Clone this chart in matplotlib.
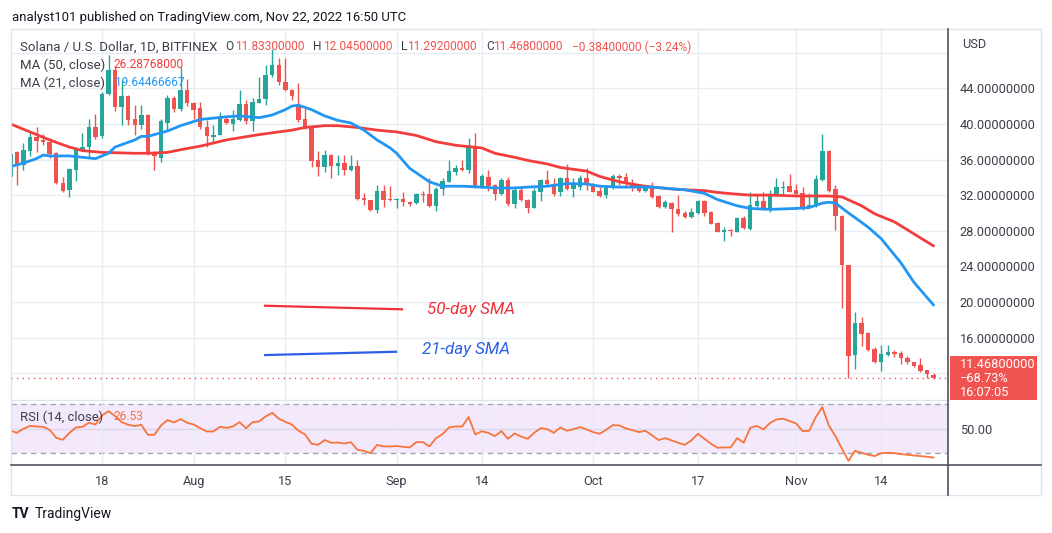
import numpy as np
import pandas as pd
import matplotlib
matplotlib.use("Agg")
import matplotlib.pyplot as plt
from matplotlib import font_manager as fm
from matplotlib.patches import Rectangle

# ---------------- data ----------------
start_date = "2022-07-04"
opens = [34.0, 36.8, 35.4, 37.0, 38.5, 38.2, 38.0, 36.7, 33.4, 32.6,
         34.8, 37.0, 37.4, 39.6, 38.6, 43.4, 46.0, 41.9, 43.1, 40.5,
         39.9, 41.0, 36.8, 36.2, 40.1, 42.9, 41.7, 43.8, 42.4, 41.8,
         39.6, 38.5, 38.8, 40.6, 40.0, 40.4, 42.2, 40.3, 42.4, 42.8,
         45.5, 46.6, 44.7, 43.8, 42.1, 40.5, 39.6, 35.9, 35.2, 36.5,
         35.3, 35.6, 34.8, 35.3, 31.7, 31.4, 30.3, 32.5, 31.6, 31.5,
         31.6, 31.2, 31.1, 32.1, 32.1, 30.8, 32.7, 33.5, 34.6, 35.0,
         34.8, 37.5, 32.9, 34.0, 33.1, 32.1, 33.7, 31.0, 32.6, 31.5,
         30.6, 32.3, 33.7, 33.3, 32.3, 33.9, 32.7, 32.9, 33.9, 33.3,
         32.5, 32.0, 32.8, 34.1, 34.0, 33.3, 33.0, 32.5, 33.0, 31.9,
         30.7, 31.1, 30.4, 30.0, 29.5, 30.0, 31.3, 30.1, 28.9, 27.9,
         28.1, 27.9, 29.4, 28.2, 30.8, 31.3, 30.4, 32.0, 32.8, 33.0,
         32.6, 32.2, 30.7, 30.8, 33.7, 37.0, 32.7, 29.7, 24.2, 14.0,
         17.6, 16.5, 14.7, 13.3, 14.0, 14.4, 14.3, 13.7, 13.2, 12.9,
         12.3, 11.833]
highs = [36.8, 37.0, 37.8, 39.1, 39.6, 38.9, 38.4, 36.8, 34.0, 35.0,
         37.4, 39.0, 40.5, 41.1, 43.6, 47.7, 46.5, 44.9, 43.2, 42.1,
         42.1, 41.1, 36.9, 40.6, 43.2, 43.1, 46.4, 45.1, 42.5, 42.5,
         40.4, 39.9, 41.3, 40.9, 41.6, 43.8, 42.7, 42.9, 45.3, 46.6,
         48.4, 47.4, 47.4, 43.9, 44.6, 41.8, 39.7, 36.9, 37.1, 36.6,
         36.5, 36.5, 36.5, 35.9, 32.2, 31.5, 33.1, 33.1, 33.0, 31.7,
         32.4, 31.3, 32.2, 32.5, 33.9, 32.9, 33.9, 36.0, 35.4, 36.0,
         38.4, 39.0, 34.4, 34.8, 33.2, 33.9, 34.0, 33.0, 32.9, 31.6,
         32.8, 33.8, 34.8, 33.9, 34.0, 35.5, 33.9, 34.3, 35.1, 33.4,
         32.9, 33.1, 34.4, 34.4, 34.5, 33.8, 33.1, 33.1, 33.5, 32.0,
         31.5, 31.2, 32.0, 30.2, 30.5, 31.5, 31.5, 30.2, 29.0, 28.4,
         28.2, 29.5, 29.6, 32.3, 32.1, 32.3, 32.6, 33.9, 33.6, 34.4,
         33.3, 32.9, 32.2, 34.3, 38.9, 37.1, 33.1, 29.8, 24.2, 18.9,
         18.3, 16.6, 14.9, 15.2, 15.2, 14.6, 14.5, 13.9, 13.3, 13.7,
         12.4, 12.045]
lows = [33.3, 33.1, 34.8, 36.4, 36.8, 37.6, 36.2, 33.2, 32.4, 31.8,
        33.6, 36.9, 36.3, 38.3, 38.4, 43.3, 41.5, 39.9, 39.9, 38.8,
        39.4, 36.5, 34.8, 35.7, 39.3, 41.3, 41.5, 42.0, 40.5, 39.4,
        37.4, 38.0, 38.7, 40.0, 39.2, 40.3, 40.0, 39.2, 42.3, 42.1,
        45.3, 44.4, 43.7, 42.7, 40.2, 39.4, 35.2, 34.1, 34.6, 33.9,
        34.3, 34.3, 34.7, 31.4, 30.9, 30.2, 30.0, 30.7, 31.3, 30.5,
        30.8, 30.8, 31.0, 31.2, 30.7, 30.2, 32.0, 33.5, 34.3, 34.7,
        34.5, 32.8, 32.8, 32.5, 31.5, 32.0, 30.8, 30.5, 31.3, 30.0,
        30.5, 31.3, 33.0, 31.9, 31.9, 32.6, 31.8, 32.6, 32.6, 32.3,
        31.8, 31.7, 32.7, 33.1, 33.0, 32.5, 32.4, 32.4, 31.7, 30.5,
        30.6, 27.9, 29.6, 29.4, 29.4, 29.9, 29.7, 28.7, 27.8, 26.9,
        27.4, 27.8, 28.2, 28.1, 30.7, 30.3, 30.1, 31.9, 32.0, 32.3,
        32.0, 30.3, 30.6, 30.7, 33.6, 32.4, 28.1, 19.3, 11.5, 12.5,
        15.1, 14.5, 13.1, 12.2, 13.9, 13.8, 13.0, 13.0, 12.7, 12.1,
        11.4, 11.292]
closes = [36.6, 35.4, 37.1, 38.5, 38.1, 38.0, 36.6, 33.4, 32.5, 34.9,
          37.2, 37.4, 39.6, 38.5, 43.4, 46.0, 41.9, 43.1, 40.4, 39.9,
          41.0, 36.6, 36.4, 40.3, 42.9, 41.7, 43.8, 42.3, 41.6, 39.6,
          38.6, 38.8, 40.7, 40.1, 40.6, 42.2, 40.3, 42.5, 42.8, 45.5,
          46.6, 44.7, 43.8, 43.1, 40.4, 39.5, 35.8, 35.2, 36.5, 35.3,
          35.6, 34.8, 35.3, 31.6, 31.4, 30.3, 32.5, 31.5, 31.4, 31.6,
          31.2, 31.0, 32.1, 32.0, 30.8, 32.7, 33.6, 34.7, 35.0, 34.8,
          37.5, 32.9, 34.2, 33.0, 32.1, 33.7, 31.0, 32.6, 31.4, 30.6,
          32.5, 33.7, 33.3, 32.1, 33.9, 32.7, 33.4, 33.9, 33.1, 32.4,
          31.9, 32.8, 34.1, 33.9, 33.2, 32.9, 32.5, 32.9, 31.8, 30.7,
          31.2, 30.4, 29.9, 29.5, 30.1, 31.3, 30.0, 28.8, 27.9, 28.1,
          28.0, 29.4, 28.3, 30.9, 31.3, 30.4, 32.0, 32.9, 32.9, 32.4,
          32.1, 30.7, 30.9, 33.8, 36.9, 32.5, 29.6, 24.1, 13.9, 17.6,
          16.4, 14.6, 13.2, 14.1, 14.4, 14.2, 13.7, 13.2, 12.8, 12.2,
          11.852, 11.468]

change_abs = -0.384
change_pct = -3.24
scale_pct = -68.73
countdown = "16:07:05"
published = "analyst101 published on TradingView.com, Nov 22, 2022 16:50 UTC"
symbol_title = "Solana / U.S. Dollar, 1D, BITFINEX"

ma50_days = [0, 4, 6, 9, 11, 14, 19, 21, 24, 26, 29, 33, 38, 43, 45, 48, 50, 53,
             56, 59, 62, 65, 68, 72, 74, 77, 79, 82, 84, 88, 90, 93, 96, 98, 101,
             103, 106, 108, 111, 113, 116, 120, 125, 127, 130, 132, 135, 137, 141]
ma50_vals = [40.0, 38.8, 38.2, 37.4, 37.0, 36.8, 36.7, 36.7, 36.8, 37.1, 37.5, 38.2,
             38.8, 39.3, 39.6, 39.8, 39.8, 39.6, 39.3, 39.1, 38.7, 38.0, 37.6, 37.3,
             36.7, 36.25, 35.9, 35.5, 35.1, 34.7, 34.1, 33.5, 33.1, 32.9, 32.7, 32.6,
             32.5, 32.3, 32.1, 32.0, 32.0, 31.9, 31.9, 31.8, 30.8, 29.9, 29.0, 28.1,
             26.28768]
ma21_days = [0, 2, 4, 5, 6, 9, 11, 13, 15, 16, 19, 20, 21, 24, 26, 29, 33, 35, 38,
             40, 42, 43, 44, 46, 48, 50, 52, 54, 56, 58, 59, 61, 64, 66, 69, 72, 74,
             77, 79, 82, 85, 88, 90, 93, 96, 98, 101, 103, 106, 108, 111, 113, 116,
             120, 122, 124, 125, 126, 128, 131, 133, 136, 138, 141]
ma21_vals = [35.2, 35.6, 36.1, 36.5, 36.4, 36.4, 36.25, 36.1, 36.7, 37.4, 38.2, 38.6,
             38.6, 39.2, 39.8, 40.5, 40.8, 40.9, 40.7, 41.0, 41.6, 42.0, 42.1, 41.6,
             40.9, 40.4, 40.1, 39.3, 38.2, 37.3, 36.7, 35.0, 33.5, 33.0, 33.0, 32.9,
             32.8, 32.8, 32.9, 33.0, 33.3, 33.25, 33.0, 32.9, 32.9, 32.9, 32.7, 32.6,
             32.2, 31.5, 30.8, 30.5, 30.4, 30.5, 30.6, 31.1, 31.2, 31.1, 30.0, 28.4,
             27.1, 24.4, 22.2, 19.64466667]

rsi_vals = [48.6, 46.7, 50.0, 52.4, 51.9, 51.6, 49.2, 42.7, 41.0, 46.5,
            51.1, 51.6, 54.9, 53.5, 60.9, 64.4, 60.3, 55.4, 53.3, 52.2,
            53.3, 45.1, 45.1, 52.7, 57.1, 55.2, 57.9, 54.9, 53.5, 50.5,
            47.8, 47.8, 51.6, 50.8, 51.9, 55.4, 50.5, 55.4, 56.0, 60.1,
            63.1, 58.2, 55.7, 53.5, 48.4, 45.4, 37.8, 36.9, 40.8, 38.6,
            38.8, 38.0, 39.1, 32.9, 32.0, 30.1, 36.9, 35.6, 35.6, 35.9,
            35.3, 34.8, 39.1, 39.1, 35.6, 42.4, 45.6, 51.1, 51.9, 51.9,
            59.5, 45.4, 48.0, 46.7, 44.0, 48.1, 41.8, 46.2, 43.7, 41.8,
            46.7, 50.5, 49.7, 46.7, 51.1, 48.4, 49.7, 51.4, 49.5, 47.3,
            45.9, 49.2, 53.0, 52.7, 50.3, 48.9, 47.3, 48.4, 44.6, 40.8,
            42.4, 40.5, 38.6, 36.9, 40.5, 45.9, 41.8, 37.8, 34.5, 34.8,
            34.8, 42.4, 38.6, 50.8, 52.4, 49.5, 54.6, 57.6, 58.2, 56.3,
            54.4, 48.1, 48.4, 59.5, 67.7, 52.7, 44.0, 33.7, 23.9, 32.0,
            30.4, 28.8, 27.7, 30.1, 30.4, 30.1, 29.3, 28.8, 28.2, 27.7,
            27.2, 26.53]

tick_dates = ["2022-07-18", "2022-08-01", "2022-08-15", "2022-09-01", "2022-09-14",
              "2022-10-01", "2022-10-17", "2022-11-01", "2022-11-14"]
price_ticks = [12, 16, 20, 24, 28, 32, 36, 40, 44, 48]
price_labels = [16, 20, 24, 28, 32, 36, 40, 44]

# ---------------- fonts ----------------
names = {f.name for f in fm.fontManager.ttflist}
def pick(*cands):
    for n in cands:
        if n in names:
            return n
    return "DejaVu Sans"
FONT = pick("Liberation Sans Narrow", "DejaVu Sans Condensed", "Roboto")
plt.rcParams["font.family"] = [FONT, "DejaVu Sans"]

UP, DOWN = "#26a69a", "#ef5350"
GRID = "#e8edf3"
TXT = "#3b3f4a"

W, H = 1052, 533
fig = plt.figure(figsize=(W / 100, H / 100), dpi=100)
fig.patch.set_facecolor("white")
renderer = fig.canvas.get_renderer()

def rect(x0, y0, x1, y1):
    return [x0 / W, 1 - y1 / H, (x1 - x0) / W, (y1 - y0) / H]

ax = fig.add_axes(rect(11, 30, 948, 400))
axr = fig.add_axes(rect(11, 400, 948, 465), sharex=ax)

dates = pd.date_range(start_date, periods=len(closes), freq="D")
days = np.arange(len(closes))
o, h, l, c = map(np.array, (opens, highs, lows, closes))
up = c >= o
cols = np.where(up, UP, DOWN)

# ---- main price pane ----
ax.vlines(days, l, h, colors=cols, lw=1.0, zorder=3)
body_bottom = np.minimum(o, c)
body_h = np.maximum(np.abs(c - o), 0.1)
ax.bar(days, body_h, bottom=body_bottom, width=0.68, color=cols, zorder=4, linewidth=0)
ax.plot(ma50_days, ma50_vals, color="#f23d3d", lw=2.0, zorder=5, solid_capstyle="round")
ax.plot(ma21_days, ma21_vals, color="#2196f3", lw=2.0, zorder=5, solid_capstyle="round")
ax.axhline(closes[-1], color=DOWN, lw=1.0, ls=(0, (1, 3)), zorder=2)

tick_pos = [(pd.Timestamp(t) - pd.Timestamp(start_date)).days for t in tick_dates]
tick_lab = [pd.Timestamp(t).strftime("%b") if pd.Timestamp(t).day == 1 else str(pd.Timestamp(t).day)
            for t in tick_dates]

ax.set_xlim(0.1, 143.2)
ax.set_ylim(8.98, 50.55)
ax.set_xticks(tick_pos)
ax.set_yticks(price_ticks)
ax.yaxis.tick_right()
ax.set_yticklabels([f"{v:.8f}" if v in price_labels else "" for v in price_ticks])
ax.tick_params(axis="y", length=0, pad=8.4, labelsize=9.2, labelcolor=TXT)
ax.tick_params(axis="x", length=0, labelbottom=False)
ax.grid(True, color=GRID, lw=1.0, zorder=0)
for s in ax.spines.values():
    s.set_visible(False)


def fit(axo, x, y, s, width, size=10.0, **kw):
    t = axo.text(x, y, s, fontsize=size, **kw)
    bb = t.get_window_extent(renderer=renderer)
    if bb.width > 0:
        t.set_fontsize(size * width / bb.width)
    return t


# annotations (hand-drawn in the reference)
ax.plot([38.9, 59.8], [19.57, 19.17], color="#f0303a", lw=1.6, zorder=6)
ax.plot([38.9, 58.9], [14.03, 14.4], color="#2b5fe8", lw=1.6, zorder=6)
fit(ax, 63.6, 19.2, "50-day SMA", 88, 12, color="#f0303a", style="italic",
    va="center", ha="left", zorder=7)
fit(ax, 62.9, 14.6, "21-day SMA", 88, 12, color="#2b5fe8", style="italic",
    va="center", ha="left", zorder=7)

# ---- RSI pane ----
axr.axhspan(30, 70, color="#f3e8fc", zorder=0, lw=0)
axr.axhline(70, color="#a3a6af", lw=1.0, ls=(0, (4, 3)), zorder=1)
axr.axhline(30, color="#a3a6af", lw=1.0, ls=(0, (4, 3)), zorder=1)
axr.axhline(50, color="#ddd6e8", lw=1.0, zorder=1)
axr.plot(days, rsi_vals, color="#f7743a", lw=1.3, zorder=4)
axr.set_ylim(20.45, 73.5)
axr.set_yticks([50])
axr.yaxis.tick_right()
axr.set_yticklabels(["50.00"])
axr.tick_params(axis="y", length=0, pad=8.4, labelsize=9.2, labelcolor=TXT)
axr.set_xticks(tick_pos)
axr.set_xticklabels(tick_lab)
axr.tick_params(axis="x", length=0, pad=7, labelsize=9.2, labelcolor=TXT)
axr.grid(True, axis="x", color=GRID, lw=1.0, zorder=0)
for s in axr.spines.values():
    s.set_visible(False)

# ---- overlay for frame / labels ----
ov = fig.add_axes([0, 0, 1, 1], zorder=10)
ov.set_xlim(0, W)
ov.set_ylim(H, 0)
ov.axis("off")
ov.patch.set_alpha(0)

ov.plot([11, 1041, 1041, 11, 11], [29, 29, 495, 495, 29], color="#e0e3eb", lw=1.0)
ov.plot([11, 948], [400, 400], color="#e0e3eb", lw=1.0)
ov.plot([11, 1041], [465, 465], color="#50535e", lw=1.2)
ov.plot([948, 948], [29, 495], color="#50535e", lw=1.2)

fit(ov, 12, 17, published, 392, 10, color="#131722", va="center", ha="left")

fit(ov, 20, 47, symbol_title, 196, 10, color=TXT, va="center")
for lx, vx, letter, val in [(225.5, 235, "O", opens[-1]), (313, 323, "H", highs[-1]),
                            (400.5, 407, "L", lows[-1]), (486, 493, "C", closes[-1])]:
    tv = fit(ov, vx, 47, f"{val:.8f}", 69.5, 10, color=DOWN, va="center")
    ov.text(lx, 47, letter, fontsize=tv.get_fontsize(), color=TXT, va="center")
fit(ov, 572, 47, f"\u2212{abs(change_abs):.8f} (\u2212{abs(change_pct):.2f}%)", 120, 10,
    color=DOWN, va="center")
fit(ov, 20, 65, "MA (50, close)", 85, 10, color=TXT, va="center")
fit(ov, 113, 65, f"{ma50_vals[-1]:.8f}", 70, 10, color="#f23d3d", va="center")
fit(ov, 20, 83, "MA (21, close)", 85, 10, color=TXT, va="center")
fit(ov, 115, 83, f"{ma21_vals[-1]:.8f}", 69, 10, color="#2196f3", va="center")
fit(ov, 20, 417, "RSI (14, close)", 83, 10, color=TXT, va="center")
fit(ov, 113, 417, f"{rsi_vals[-1]:.2f}", 30, 10, color="#f7743a", va="center")

ov.text(962, 44, "USD", fontsize=9.2, color=TXT, va="center")
ov.add_patch(Rectangle((950, 356), 87, 44, color="#f05350", lw=0))
ov.text(960, 364, f"{closes[-1]:.8f}", fontsize=9.2, color="white", va="center")
ov.text(960, 379, f"\u2212{abs(scale_pct):.2f}%", fontsize=9.2, color="white", va="center")
ov.text(960, 393, countdown, fontsize=9.2, color="white", va="center")

ov.text(12, 514, "TV", fontsize=10, fontweight="bold", color="#131722", va="center")
ov.text(35, 514, "TradingView", fontsize=10, color="#131722", va="center")

fig.savefig("out.png", dpi=100)
